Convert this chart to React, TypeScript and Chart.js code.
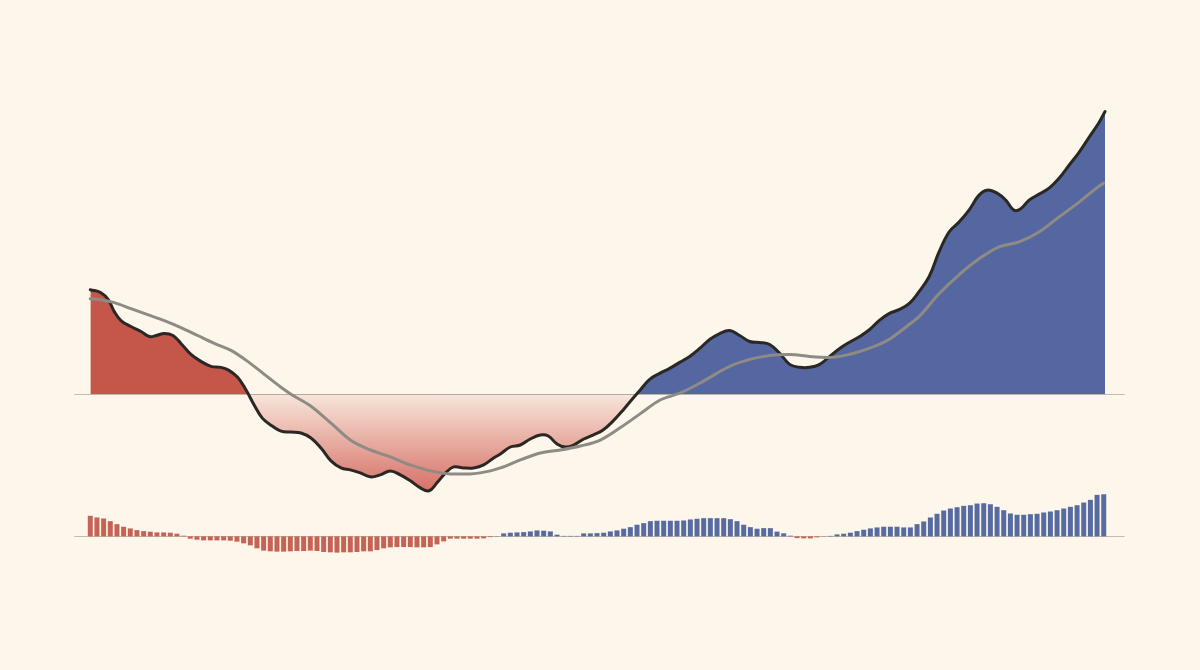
import React, { useEffect, useRef } from 'react';
import { Chart, registerables } from 'chart.js';

Chart.register(...registerables);

// ---------- data ----------
// x positions are in "period" units (bar index); the line series were sampled along the same axis
const mainX = [0, 1.6, 2.7, 3.6, 4.6, 6.1, 7.6, 8.9, 9.9, 11.1, 12.4, 13.6, 15.1, 16.6, 18.1, 19.6, 20.8, 22.1, 23.3, 24.6, 25.8, 27.3, 28.6, 30.1, 31.6, 33.1, 34.6, 36.1, 37.6, 39.0, 40.5, 42.0, 43.5, 45.0, 46.5, 48.0, 49.5, 50.8, 52.0, 53.3, 54.5, 56.0, 57.5, 59.0, 60.5, 61.5, 63.0, 64.5, 66.0, 67.5, 68.7, 70.0, 71.2, 72.5, 74.0, 75.4, 76.9, 78.4, 79.9, 81.4, 82.7, 83.9, 85.4, 86.9, 88.4, 89.9, 91.4, 92.9, 94.4, 95.9, 97.4, 98.9, 100.4, 101.9, 103.4, 104.9, 106.4, 107.9, 109.4, 110.9, 112.4, 113.8, 115.4, 116.9, 118.3, 119.8, 121.3, 122.8, 124.3, 125.8, 127.3, 128.8, 130.3, 131.8, 133.3, 134.5, 136.0, 137.3, 138.5, 139.5, 140.8, 142.3, 143.8, 145.3, 146.8, 148.3, 149.8, 151.3, 152.2];
const mainY = [10.5, 10.2, 9.5, 8.3, 7.4, 6.8, 6.3, 5.8, 5.9, 6.1, 5.9, 5.1, 4.0, 3.3, 2.8, 2.7, 2.4, 1.7, 0.5, -1.1, -2.4, -3.2, -3.7, -3.8, -3.9, -4.4, -5.4, -6.7, -7.4, -7.6, -7.9, -8.3, -8.1, -7.7, -8.1, -8.7, -9.4, -9.7, -8.9, -7.9, -7.3, -7.4, -7.4, -7.1, -6.4, -6.0, -5.3, -5.1, -4.5, -4.1, -4.2, -5.0, -5.3, -5.1, -4.5, -4.1, -3.6, -2.7, -1.6, -0.4, 0.6, 1.5, 2.1, 2.6, 3.2, 3.8, 4.6, 5.5, 6.1, 6.4, 5.9, 5.3, 5.2, 5.0, 4.1, 3.0, 2.7, 2.7, 3.0, 3.8, 4.6, 5.2, 5.8, 6.5, 7.4, 8.1, 8.5, 9.1, 10.3, 11.8, 14.3, 16.3, 17.3, 18.5, 20.0, 20.5, 20.2, 19.5, 18.5, 18.6, 19.5, 20.1, 20.7, 21.7, 23.0, 24.3, 25.8, 27.3, 28.4];

const trendX = [0, 1.6, 3.6, 6.1, 8.6, 11.1, 13.6, 16.1, 18.6, 21.1, 23.6, 26.1, 28.6, 30.1, 33.1, 36.1, 39.0, 42.0, 45.0, 48.0, 51.0, 54.0, 57.0, 60.0, 61.5, 64.5, 67.5, 70.5, 73.5, 76.5, 79.4, 82.4, 85.4, 88.4, 91.4, 95.9, 98.9, 101.9, 104.9, 107.9, 110.9, 113.8, 116.8, 119.8, 122.8, 124.3, 127.3, 130.3, 133.3, 136.3, 139.3, 142.3, 145.3, 148.3, 151.3, 152.0];
const trendY = [9.6, 9.5, 9.2, 8.6, 8.0, 7.4, 6.7, 5.9, 5.1, 4.4, 3.3, 2.0, 0.7, 0.0, -1.2, -2.9, -4.6, -5.6, -6.3, -7.1, -7.7, -8.0, -8.0, -7.7, -7.4, -6.6, -5.9, -5.6, -5.2, -4.6, -3.4, -2.0, -0.6, 0.1, 1.1, 2.8, 3.5, 3.9, 4.0, 3.8, 3.7, 4.0, 4.6, 5.5, 7.0, 7.8, 10.1, 12.0, 13.6, 14.8, 15.3, 16.3, 17.8, 19.3, 20.9, 21.2];

const flowValues = [
  20.7, 19, 18, 15.3, 12.3, 9.7, 8, 6.3, 5.3, 4.7, 4, 4, 3.7, 2.7, 0.7,
  -2.3, -3.3, -4, -4, -4, -4, -4.3, -5.3, -7, -9, -12, -14.3, -15, -15.3, -15.3,
  -15, -14.7, -14.7, -14.3, -14.7, -15.7, -16, -16.3, -16, -16, -15.7, -15, -15, -13.7, -12,
  -11, -10.7, -10.7, -10.7, -11, -11, -10.7, -8,
  -5, -2.3, -2.3, -2.3, -2.3, -2.3, -2, -0.7,
  0.3, 3, 3.7, 4, 4.3, 5, 6, 5.7, 5, 1.7, 0.5, 0.5, 0.5, 3, 3,
  3.3, 3.7, 5, 6, 7.7, 9.3, 11.7, 13.3, 15.3, 15.7, 15.7, 15.7, 15.7, 16, 17,
  17.7, 18.3, 18.3, 18.3, 18.3, 17.3, 15.3, 11.7, 9.3, 7.7, 8.3, 8.3, 4.8, 3.1, 0.7, -1.7,
  -2, -2, -1, -0.3, 0.5, 2, 2.7, 3.7, 5.3, 6.7, 8, 9, 9.7, 9.7, 9.7,
  9, 9, 12.3, 15, 19, 22.7, 26, 28, 29.3, 30.7, 31.3, 33, 33.3, 32.3, 29.7,
  26.3, 23, 21.7, 21.7, 22.3, 22.7, 24, 25, 26.3, 28, 29.7, 31.3, 34, 36.7, 41.7, 42.3,
];

// index where the regime changes from "red" to "blue"
const REGIME_START = 61;
const FILL_SPLIT_X = 52;

// ---------- styles ----------
const BG = '#fcf6eb';
const RED = '#c4574a';
const BLUE = '#5567a0';
const RED_BAR = 'rgba(192,86,72,0.92)';
const BLUE_BAR = 'rgba(78,99,156,0.95)';

export default function App() {
  const ref = useRef<HTMLCanvasElement>(null);

  useEffect(() => {
    document.body.style.margin = '0';
    document.body.style.background = BG;
    const canvas = ref.current;
    if (!canvas) return;

    const mainData = mainX.map((x, i) => ({ x, y: mainY[i] }));
    const trendData = trendX.map((x, i) => ({ x, y: trendY[i] }));
    const flowData = flowValues.map((y, i) => ({ x: i, y }));

    const zeroLines = {
      id: 'zeroLines',
      beforeDatasetsDraw(chart: any) {
        const { ctx, scales } = chart;
        const x0 = scales.x.getPixelForValue(0) - 16;
        const x1 = scales.x.getPixelForValue(flowValues.length - 1) + 21;
        ctx.save();
        ctx.strokeStyle = 'rgba(150,140,126,0.55)';
        ctx.lineWidth = 1.2;
        for (const id of ['y', 'y2']) {
          const y = Math.round(scales[id].getPixelForValue(0)) + 0.5;
          ctx.beginPath();
          ctx.moveTo(x0, y);
          ctx.lineTo(x1, y);
          ctx.stroke();
        }
        ctx.restore();
      },
    };

    const chart = new Chart(canvas, {
      type: 'bar',
      data: {
        datasets: [
          {
            type: 'line',
            label: 'trend',
            data: trendData,
            yAxisID: 'y',
            borderColor: '#8e8b84',
            borderWidth: 3,
            borderCapStyle: 'round',
            pointRadius: 0,
            cubicInterpolationMode: 'monotone',
            fill: false,
            order: 0,
            clip: false,
          } as any,
          {
            type: 'line',
            label: 'index',
            data: mainData,
            yAxisID: 'y',
            borderColor: '#2a2725',
            borderWidth: 3,
            borderCapStyle: 'round',
            borderJoinStyle: 'round',
            pointRadius: 0,
            tension: 0.4,
            fill: { target: 'origin', above: RED, below: 'rgba(208,88,78,0.4)' },
            order: 1,
            clip: false,
          } as any,
          {
            type: 'bar',
            label: 'flow',
            data: flowData,
            yAxisID: 'y2',
            backgroundColor: (c: any) => {
              const v = c.raw ? c.raw.y : 0;
              return v < 0 || c.dataIndex < REGIME_START ? RED_BAR : BLUE_BAR;
            },
            categoryPercentage: 1,
            barPercentage: 0.75,
            order: 2,
            clip: false,
          } as any,
        ],
      },
      options: {
        animation: false,
        responsive: true,
        maintainAspectRatio: false,
        layout: { padding: 0 },
        plugins: { legend: { display: false }, tooltip: { enabled: false } },
        scales: {
          x: { type: 'linear', min: -13.315, max: 166.213, display: false, offset: false },
          y: { min: -27.55, max: 39.45, display: false },
          y2: { min: -132.7, max: 537.3, display: false },
        },
      } as any,
      plugins: [zeroLines],
    });

    const ctx = chart.ctx;
    const xs = chart.scales.x;
    const ys = chart.scales.y;
    const split = xs.getPixelForValue(FILL_SPLIT_X) / chart.width;
    const above = ctx.createLinearGradient(0, 0, chart.width, 0);
    above.addColorStop(0, RED);
    above.addColorStop(split, RED);
    above.addColorStop(split, BLUE);
    above.addColorStop(1, BLUE);
    const yz = ys.getPixelForValue(0);
    const yb = ys.getPixelForValue(Math.min(...mainY));
    const below = ctx.createLinearGradient(0, yz, 0, yb);
    below.addColorStop(0, 'rgba(208,88,78,0.1)');
    below.addColorStop(1, 'rgba(208,88,78,0.85)');
    (chart.data.datasets[1] as any).fill = { target: 'origin', above, below };
    chart.update('none');

    return () => chart.destroy();
  }, []);

  return (
    <div style={{ width: 1200, height: 670, background: BG, position: 'relative' }}>
      <canvas ref={ref} />
    </div>
  );
}
